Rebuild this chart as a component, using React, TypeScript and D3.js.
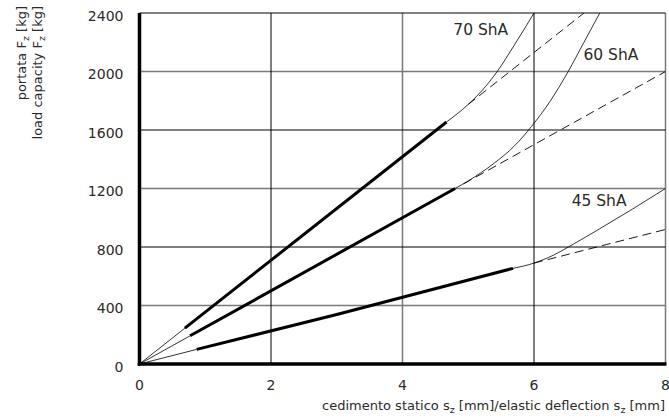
import React from "react";
import * as d3 from "d3";

const xTicks = [0, 2, 4, 6, 8];
const yTicks = [0, 400, 800, 1200, 1600, 2000, 2400];
const darkGridX = [2, 6];
const grayGridX = [4, 8];
const darkGridY = [800, 1600, 2400];
const grayGridY = [400, 1200, 2000];

const seriesNames = ["70 ShA", "60 ShA", "45 ShA"];
const thinStart70: [number, number][] = [[0, 0], [0.69, 245]];
const thick70: [number, number][] = [[0.69, 245], [4.67, 1655]];
const curve70: [number, number][] = [[4.67, 1655], [5.0, 1775], [5.2, 1865], [5.44, 2000], [5.7, 2180], [6.0, 2400]];
const dashed70: [number, number][] = [[5.0, 1775], [6.76, 2400]];

const thinStart60: [number, number][] = [[0, 0], [0.77, 193]];
const thick60: [number, number][] = [[0.77, 193], [4.8, 1200]];
const curve60: [number, number][] = [[4.8, 1200], [5.0, 1252], [5.4, 1375], [5.7, 1490], [5.96, 1623], [6.25, 1800], [6.52, 2000], [6.76, 2200], [7.0, 2400]];
const dashed60: [number, number][] = [[4.93, 1232], [8, 2000]];

const thinStart45: [number, number][] = [[0, 0], [0.87, 100]];
const thick45: [number, number][] = [[0.87, 100], [3.0, 338], [5.68, 654]];
const curve45: [number, number][] = [[5.68, 654], [6.0, 690], [6.3, 745], [6.6, 820], [7.0, 925], [7.5, 1060], [8.0, 1200]];
const dashed45: [number, number][] = [[6.0, 690], [8, 920]];

// label anchor (centre x, baseline y) in data units
const labelPos: [number, number][] = [[5.19, 2250], [7.17, 2082], [6.99, 1080]];

const W = 669;
const H = 419;
const FONT = "'DejaVu Sans', sans-serif";
const TXT = "#2a2a2a";

export default function App() {
  const x = d3.scaleLinear().domain([0, 8]).range([139.5, 665.5]);
  const y = d3.scaleLinear().domain([0, 2400]).range([364, 13]);
  const straight = d3.line<[number, number]>().x((d) => x(d[0])).y((d) => y(d[1]));
  const smooth = d3
    .line<[number, number]>()
    .x((d) => x(d[0]))
    .y((d) => y(d[1]))
    .curve(d3.curveMonotoneX);

  const groups = [
    [thinStart70, thick70, curve70, dashed70],
    [thinStart60, thick60, curve60, dashed60],
    [thinStart45, thick45, curve45, dashed45],
  ];

  return (
    <svg
      width={W}
      height={H}
      style={{ position: "absolute", left: 0, top: 0, background: "#fff" }}
      fontFamily={FONT}
    >
      <defs>
        <clipPath id="plot">
          <rect x={x(0)} y={y(2400)} width={x(8) - x(0)} height={y(0) - y(2400)} />
        </clipPath>
      </defs>
      {grayGridY.map((v) => (
        <line key={"gy" + v} x1={x(0)} x2={x(8)} y1={y(v)} y2={y(v)} stroke="#7a7a7a" strokeWidth={1.5} />
      ))}
      {grayGridX.map((v) => (
        <line key={"gx" + v} x1={x(v)} x2={x(v)} y1={y(0)} y2={y(2400)} stroke="#7a7a7a" strokeWidth={1.5} />
      ))}
      {darkGridY.map((v) => (
        <line key={"dy" + v} x1={x(0)} x2={x(8)} y1={y(v)} y2={y(v)} stroke="#000" strokeWidth={1} />
      ))}
      {darkGridX.map((v) => (
        <line key={"dx" + v} x1={x(v)} x2={x(v)} y1={y(0)} y2={y(2400)} stroke="#000" strokeWidth={1} />
      ))}

      <g clipPath="url(#plot)" fill="none" stroke="#000">
        {groups.map((g, i) => (
          <g key={i}>
            <path d={straight(g[0]) || ""} strokeWidth={0.8} />
            <path d={straight(g[1]) || ""} strokeWidth={3} />
            <path d={smooth(g[2]) || ""} strokeWidth={0.8} />
            <path d={straight(g[3]) || ""} strokeWidth={0.9} strokeDasharray="9,5" />
          </g>
        ))}
      </g>

      <line x1={x(0)} x2={x(0)} y1={y(0) + 1.75} y2={y(2400)} stroke="#000" strokeWidth={3.5} />
      <line x1={x(0) - 1.75} x2={x(8) + 1} y1={y(0)} y2={y(0)} stroke="#000" strokeWidth={3.5} />

      {seriesNames.map((n, i) => (
        <text key={n} x={x(labelPos[i][0])} y={y(labelPos[i][1])} textAnchor="middle" fontSize={15.5} fill={TXT}>
          {n}
        </text>
      ))}

      {yTicks.map((v) => (
        <text key={"yt" + v} x={123.5} y={y(v) + 7.5} textAnchor="end" fontSize={14} fill={TXT}>
          {v}
        </text>
      ))}
      {xTicks.map((v) => (
        <text key={"xt" + v} x={x(v)} y={390} textAnchor="middle" fontSize={14} fill={TXT}>
          {v}
        </text>
      ))}

      <text x={665} y={410} textAnchor="end" fontSize={13} fill={TXT}>
        cedimento statico s<tspan fontSize={9.5} dy={3}>z</tspan>
        <tspan dy={-3}> [mm]/elastic deflection s</tspan>
        <tspan fontSize={9.5} dy={3}>z</tspan>
        <tspan dy={-3}> [mm]</tspan>
      </text>

      <text transform="translate(26,6) rotate(-90)" textAnchor="end" fontSize={13} fill={TXT}>
        portata F<tspan fontSize={9.5} dy={3}>z</tspan>
        <tspan dy={-3}> [kg]</tspan>
      </text>
      <text transform="translate(42,6) rotate(-90)" textAnchor="end" fontSize={13} fill={TXT}>
        load capacity F<tspan fontSize={9.5} dy={3}>z</tspan>
        <tspan dy={-3}> [kg]</tspan>
      </text>
    </svg>
  );
}
